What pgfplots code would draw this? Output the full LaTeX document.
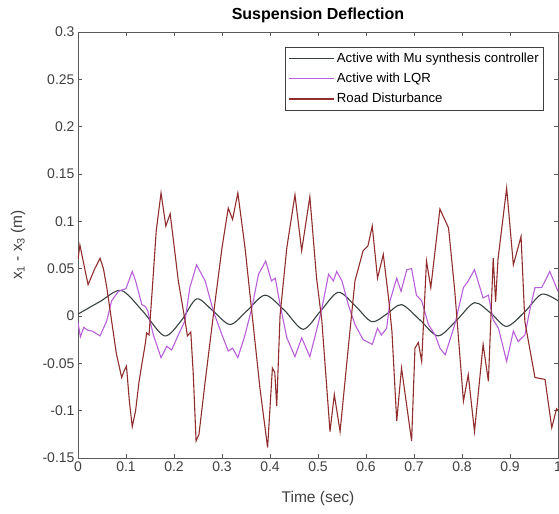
\documentclass[border=0pt]{standalone}
\usepackage{fontspec}
\setmainfont{Liberation Sans}
\usepackage{pgfplots}
\pgfplotsset{compat=1.18}
\definecolor{musyn}{RGB}{55,65,65}
\definecolor{lqr}{RGB}{185,95,220}
\definecolor{road}{RGB}{145,45,45}
\definecolor{axgray}{RGB}{90,90,90}
\begin{document}
\begin{tikzpicture}
\begin{axis}[
  scale only axis, width=480pt, height=426pt,
  xmin=0, xmax=1, ymin=-0.15, ymax=0.3,
  xtick={0,0.1,0.2,0.3,0.4,0.5,0.6,0.7,0.8,0.9,1},
  xticklabels={0,0.1,0.2,0.3,0.4,0.5,0.6,0.7,0.8,0.9,1},
  ytick={-0.15,-0.1,-0.05,0,0.05,0.1,0.15,0.2,0.25,0.3},
  yticklabels={-0.15,-0.1,-0.05,0,0.05,0.1,0.15,0.2,0.25,0.3},
  tick label style={font=\fontsize{14}{16}\selectfont, text=black!75},
  tick align=inside, major tick length=4pt,
  axis line style={axgray, line width=0.8pt},
  every tick/.style={axgray, line width=0.8pt},
  title={Suspension Deflection},
  every axis title/.style={at={([yshift=17pt]axis description cs:0.5,1)}, anchor=center,
    font=\bfseries\fontsize{16}{18}\selectfont},
  xlabel={Time (sec)},
  every axis x label/.style={at={([yshift=-40pt]axis description cs:0.5,0)},
    anchor=center, font=\fontsize{15.5}{17}\selectfont, text=black!75},
  ylabel={x\textsubscript{1} - x\textsubscript{3} (m)},
  every axis y label/.style={at={([xshift=-60pt]axis description cs:0,0.5)},
    rotate=90, anchor=center, font=\fontsize{15.5}{17}\selectfont, text=black!75},
  legend style={at={(0.971,0.965)}, anchor=north east, draw=black!75,
    line width=0.8pt, fill=white, font=\fontsize{13.2}{15}\selectfont,
    inner xsep=3pt, inner ysep=4pt, row sep=5pt, cells={anchor=west}},
  legend image code/.code={\draw[#1, line width=1.1pt] (0pt,0pt) -- (45pt,0pt);},
  every axis plot/.append style={line width=1.1pt},
]
\coordinate (sw) at (rel axis cs:0,0);
\coordinate (ne) at (rel axis cs:1,1);

\addplot[musyn, smooth] coordinates {
(0,0.002) (0.045,0.015) (0.09,0.027) (0.135,0.005) (0.18,-0.021)
(0.215,-0.005) (0.247,0.018) (0.28,0.006) (0.317,-0.009) (0.353,0.006)
(0.39,0.022) (0.43,0.006) (0.469,-0.014) (0.505,0.005) (0.542,0.025)
(0.577,0.011) (0.612,-0.006) (0.643,0.002) (0.674,0.012) (0.712,-0.004)
(0.75,-0.021) (0.788,-0.005) (0.826,0.014) (0.86,0.003) (0.893,-0.011)
(0.93,0.004) (0.966,0.023) (1,0.016)
};
\addlegendentry{Active with Mu synthesis controller}

\addplot[lqr] coordinates {
(0,-0.007) (0.005,-0.022) (0.012,-0.012) (0.02,-0.015) (0.03,-0.016)
(0.046,-0.021) (0.06,-0.005) (0.07,0.016) (0.084,0.026) (0.1,0.029)
(0.113,0.047) (0.12,0.037) (0.133,0.012) (0.14,0.01) (0.145,0.006)
(0.157,-0.02) (0.173,-0.044) (0.185,-0.032) (0.195,-0.036) (0.209,-0.02)
(0.223,-0.005) (0.233,0.03) (0.247,0.054) (0.265,0.037) (0.282,0.005)
(0.3,-0.02) (0.313,-0.037) (0.322,-0.034) (0.333,-0.044) (0.348,-0.02)
(0.362,0.008) (0.376,0.044) (0.391,0.058) (0.403,0.037) (0.411,0.04)
(0.421,0.012) (0.435,-0.023) (0.452,-0.043) (0.466,-0.023) (0.483,-0.043)
(0.5,-0.009) (0.508,0.008) (0.522,0.044) (0.532,0.037) (0.539,0.047)
(0.55,0.037) (0.563,0.012) (0.577,-0.009) (0.594,-0.025) (0.613,-0.03)
(0.624,-0.013) (0.632,-0.02) (0.643,-0.013) (0.65,0.016) (0.664,0.04)
(0.673,0.026) (0.685,0.049) (0.695,0.05) (0.705,0.022) (0.716,0.016)
(0.73,-0.009) (0.744,-0.02) (0.754,-0.034) (0.765,-0.041) (0.785,-0.009)
(0.803,0.03) (0.813,0.037) (0.826,0.049) (0.844,0.019) (0.855,0.022)
(0.865,-0.004) (0.876,-0.013) (0.893,-0.048) (0.907,-0.016) (0.917,-0.027)
(0.931,-0.02) (0.942,0.008) (0.952,0.03) (0.966,0.03) (0.983,0.047)
(1,0.026)
};
\addlegendentry{Active with LQR}

\addplot[road] coordinates {
(0,0.06) (0.004,0.075) (0.01,0.06) (0.021,0.033) (0.035,0.05)
(0.046,0.061) (0.053,0.05) (0.06,0.03) (0.07,-0.005) (0.08,-0.04)
(0.091,-0.065) (0.096,-0.058) (0.101,-0.053) (0.107,-0.09) (0.113,-0.117)
(0.12,-0.1) (0.127,-0.07) (0.133,-0.051) (0.14,-0.03) (0.143,-0.018)
(0.148,-0.02) (0.155,0.03) (0.163,0.09) (0.173,0.13) (0.183,0.095)
(0.192,0.108) (0.2,0.075) (0.209,0.037) (0.223,-0.005) (0.228,-0.021)
(0.235,-0.017) (0.24,-0.06) (0.246,-0.132) (0.252,-0.125) (0.265,-0.069)
(0.282,0.001) (0.3,0.072) (0.313,0.114) (0.322,0.102) (0.333,0.13)
(0.348,0.072) (0.362,0.005) (0.379,-0.076) (0.395,-0.139) (0.405,-0.055)
(0.41,-0.06) (0.414,-0.095) (0.421,0.001) (0.435,0.072) (0.452,0.128)
(0.466,0.069) (0.483,0.126) (0.497,0.04) (0.508,-0.005) (0.525,-0.122)
(0.534,-0.083) (0.546,-0.122) (0.563,-0.034) (0.577,0.037) (0.594,0.069)
(0.604,0.074) (0.613,0.095) (0.624,0.04) (0.636,0.065) (0.647,0.019)
(0.654,-0.016) (0.664,-0.111) (0.674,-0.055) (0.695,-0.132) (0.702,-0.034)
(0.709,-0.028) (0.716,-0.048) (0.726,0.058) (0.735,0.03) (0.754,0.113)
(0.772,0.093) (0.785,0.026) (0.803,-0.09) (0.813,-0.062) (0.826,-0.122)
(0.844,-0.03) (0.855,-0.069) (0.865,0.061) (0.87,0.015) (0.875,0.06)
(0.893,0.135) (0.907,0.054) (0.923,0.084) (0.931,-0.006) (0.952,-0.065)
(0.973,-0.067) (0.987,-0.118) (0.997,-0.098) (1,-0.1)
};
\addlegendentry{Road Disturbance}
\end{axis}
\pgfresetboundingbox
\path[use as bounding box] ([xshift=-78pt,yshift=-56pt]sw) rectangle ([xshift=1pt,yshift=32pt]ne);
\end{tikzpicture}
\end{document}
